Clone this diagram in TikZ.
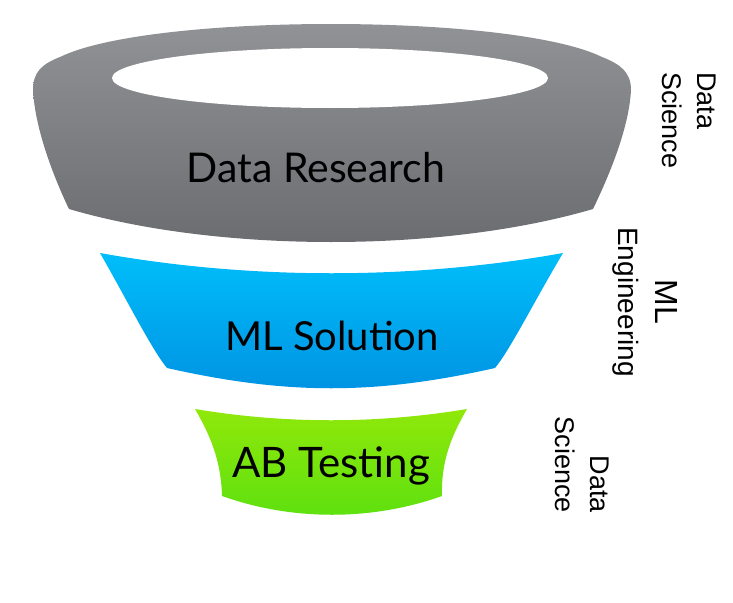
\documentclass[tikz,border=0pt]{standalone}
\usepackage{fontspec}
\setmainfont{Lato}
\newfontfamily\labelfont{Liberation Sans}
\definecolor{graytop}{RGB}{147,148,152}
\definecolor{graybot}{RGB}{106,107,111}
\definecolor{bluetop}{RGB}{0,190,250}
\definecolor{bluebot}{RGB}{0,146,226}
\definecolor{greentop}{RGB}{144,232,10}
\definecolor{greenbot}{RGB}{92,224,16}
\tikzset{
  stagetext/.style={inner sep=0pt, anchor=base, font=\fontsize{41}{48}\selectfont},
  sidetext/.style={inner sep=0pt, rotate=-90, font=\labelfont\fontsize{27}{35}\selectfont},
}
\begin{document}
\begin{tikzpicture}[x=1pt,y=-1pt]
\useasboundingbox (0,0) rectangle (733,602);
% gray stage
\shade[top color=graytop, bottom color=graybot]
  (69,209) .. controls (55,180) and (35,130) .. (33,90)
  .. controls (33,72) and (42,64) .. (60,57)
  .. controls (150,13) and (512,13) .. (602,57)
  .. controls (620,64) and (631,72) .. (631,90)
  .. controls (629,130) and (607,180) .. (593,209)
  .. controls (443,253) and (219,253) .. (69,209) -- cycle;
\fill[white] (330,78) ellipse [x radius=218, y radius=30];
% blue stage
\shade[top color=bluetop, bottom color=bluebot]
  (100,253) .. controls (250,280) and (413,280) .. (563,253)
  .. controls (535,300) and (510,350) .. (495,368)
  .. controls (375,395) and (287,395) .. (167,368)
  .. controls (152,350) and (127,300) .. (100,253) -- cycle;
% green stage
\shade[top color=greentop, bottom color=greenbot]
  (195,409) .. controls (285,424) and (377,424) .. (467,409)
  .. controls (452,435) and (441,460) .. (442,496)
  .. controls (372,521) and (292,521) .. (222,496)
  .. controls (221,460) and (210,435) .. (195,409) -- cycle;
% stage labels
\node[stagetext] (research) at (316,182) {Data Research};
\node[stagetext, font=\fontsize{40}{48}\selectfont] (solution) at (332,350) {ML Solution};
\node[stagetext, font=\fontsize{42}{48}\selectfont] (testing) at (331,477) {AB Testing};
% side labels
\node[sidetext, anchor=west, align=left] (ds1) at (689,72) {Data\\Science};
\node[sidetext, anchor=center, align=center, font=\labelfont\fontsize{28}{37}\selectfont] (mle) at (645,302) {{\fontsize{32}{37}\selectfont ML}\\Engineering};
\node[sidetext, anchor=east, align=right] (ds2) at (582,513) {Data\\Science};
\end{tikzpicture}
\end{document}
